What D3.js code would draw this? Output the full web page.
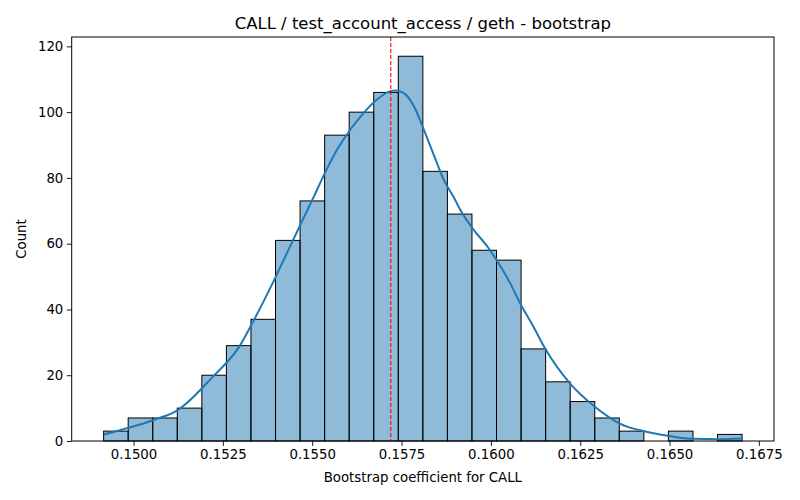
<!DOCTYPE html>
<html>
<head>
<meta charset="utf-8">
<script src="https://cdn.jsdelivr.net/npm/d3@7"></script>
<style>
  body { margin: 0; background: white; }
  svg { font-family: "DejaVu Sans", sans-serif; }
</style>
</head>
<body>
<div id="chart"></div>
<script>
// histogram: 26 equal bins
const binStart = 0.149163;
const binEnd = 0.16703;
const counts = [3, 7, 7, 10, 20, 29, 37, 61, 73, 93, 100, 106, 117, 82, 69, 58, 55, 28, 18, 12, 7, 3, 0, 3, 0, 2];

// kde curve
const kdeX = [0.149163, 0.150541, 0.151239, 0.152215, 0.152958, 0.153331, 0.153981, 0.154308, 0.154679,
  0.15505, 0.155377, 0.155703, 0.156074, 0.156445, 0.156819, 0.15719, 0.15733, 0.157609, 0.157888,
  0.158119, 0.158399, 0.158678, 0.158957, 0.159191, 0.159514, 0.159933, 0.160212, 0.160539, 0.160818,
  0.161189, 0.161515, 0.162212, 0.16291, 0.163607, 0.164352, 0.165002, 0.165652, 0.166397, 0.16703];
const kdeY = [2.0, 6.3, 9.4, 19.5, 28.7, 36, 50, 57.5, 66,
  74.4, 82.0, 88.7, 94.8, 99.8, 103.9, 106.4, 106.6, 105.4, 100.9,
  94.8, 87.1, 79.5, 74.2, 69.4, 64.3, 58.7, 54.1, 48.0, 41.9,
  34.8, 28.2, 17.5, 10.4, 5.3, 2.8, 1.5, 0.65, 0.55, 0.75];

const estimate = 0.157199;
const xTicks = [0.15, 0.1525, 0.155, 0.1575, 0.16, 0.1625, 0.165, 0.1675];
const yTicks = [0, 20, 40, 60, 80, 100, 120];

const width = 800, height = 500;
const margin = {top: 37, right: 26, bottom: 59, left: 71.7};

const svg = d3.select("#chart").append("svg")
    .attr("width", width)
    .attr("height", height);

const binW = (binEnd - binStart) / counts.length;
const bins = counts.map((c, i) => ({x0: binStart + i * binW, x1: binStart + (i + 1) * binW, c: c}));

const pad = (binEnd - binStart) * 0.05;
const x = d3.scaleLinear()
    .domain([binStart - pad, binEnd + pad])
    .range([margin.left, width - margin.right]);

const y = d3.scaleLinear()
    .domain([0, d3.max(counts) * 1.05])
    .range([height - margin.bottom, margin.top]);

// bars
svg.append("g")
    .selectAll("rect")
    .data(bins.filter(d => d.c > 0))
    .join("rect")
    .attr("x", d => x(d.x0))
    .attr("y", d => y(d.c))
    .attr("width", d => x(d.x1) - x(d.x0))
    .attr("height", d => y(0) - y(d.c))
    .attr("fill", "rgba(31,119,180,0.5)")
    .attr("stroke", "black")
    .attr("stroke-width", 1);

// kde line
const line = d3.line()
    .x((d, i) => x(kdeX[i]))
    .y(d => y(d))
    .curve(d3.curveMonotoneX);

svg.append("path")
    .datum(kdeY)
    .attr("d", line)
    .attr("fill", "none")
    .attr("stroke", "#1f77b4")
    .attr("stroke-width", 2);

// estimate line
svg.append("line")
    .attr("x1", x(estimate))
    .attr("x2", x(estimate))
    .attr("y1", margin.top)
    .attr("y2", height - margin.bottom)
    .attr("stroke", "red")
    .attr("stroke-width", 1.1)
    .attr("stroke-dasharray", "4,2");

// axes
const xAxis = svg.append("g")
    .attr("transform", `translate(0,${height - margin.bottom})`)
    .call(d3.axisBottom(x).tickValues(xTicks).tickFormat(d3.format(".4f")).tickSizeOuter(0).tickSize(4.9).tickPadding(3.5));

const yAxis = svg.append("g")
    .attr("transform", `translate(${margin.left},0)`)
    .call(d3.axisLeft(y).tickValues(yTicks).tickSizeOuter(0).tickSize(4.9).tickPadding(3.5));

[xAxis, yAxis].forEach(a => {
    a.selectAll("text").style("font-size", "13.3px").attr("fill", "black").style("font-family", "DejaVu Sans");
    a.selectAll("line").attr("stroke", "black").attr("stroke-width", 0.9);
    a.select(".domain").remove();
});

// frame
svg.append("rect")
    .attr("x", margin.left)
    .attr("y", margin.top)
    .attr("width", width - margin.right - margin.left)
    .attr("height", height - margin.bottom - margin.top)
    .attr("fill", "none")
    .attr("stroke", "black")
    .attr("stroke-width", 1);

// title and labels
svg.append("text")
    .attr("x", (margin.left + width - margin.right) / 2)
    .attr("y", 29)
    .attr("text-anchor", "middle")
    .style("font-size", "16.5px")
    .text("CALL / test_account_access / geth - bootstrap");

svg.append("text")
    .attr("x", (margin.left + width - margin.right) / 2)
    .attr("y", 482)
    .attr("text-anchor", "middle")
    .style("font-size", "13.3px")
    .text("Bootstrap coefficient for CALL");

svg.append("text")
    .attr("transform", `translate(26,${(margin.top + height - margin.bottom) / 2}) rotate(-90)`)
    .attr("text-anchor", "middle")
    .style("font-size", "13.3px")
    .text("Count");
</script>
</body>
</html>
